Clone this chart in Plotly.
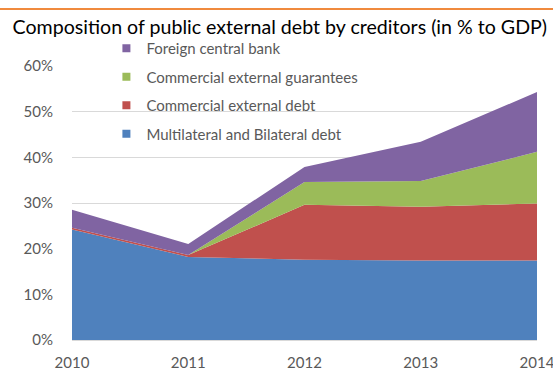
import plotly.graph_objects as go

years = [2010, 2011, 2012, 2013, 2014]

# % to GDP (stacked bottom -> top)
multilateral = [24.2, 18.2, 17.6, 17.4, 17.4]
commercial_debt = [0.4, 0.4, 12.0, 11.8, 12.5]
commercial_guarantees = [0.0, 0.0, 5.0, 5.6, 11.3]
foreign_cb = [3.9, 2.4, 3.3, 8.6, 13.1]

y_ticks = [0, 10, 20, 30, 40, 50, 60]

series = [
    ("Multilateral and Bilateral debt", multilateral, "#4F81BD"),
    ("Commercial external debt", commercial_debt, "#C0504D"),
    ("Commercial external guarantees", commercial_guarantees, "#9BBB59"),
    ("Foreign central bank", foreign_cb, "#8064A2"),
]

FONT = "Lato"
GREY = "#595959"

fig = go.Figure()

for name, vals, color in series:
    fig.add_trace(go.Scatter(
        x=years, y=vals, name=name, mode="lines",
        stackgroup="one", line=dict(width=0, color=color),
        fillcolor=color, showlegend=False, hoverinfo="x+y+name",
    ))

# square legend entries, top of the stack first
for i, (name, vals, color) in enumerate(reversed(series)):
    fig.add_trace(go.Scatter(
        x=[None], y=[None], name=name, mode="markers",
        marker=dict(symbol="square", size=8, color=color),
        legendgroup=f"g{i}", showlegend=True,
    ))

fig.update_layout(
    width=553, height=372,
    margin=dict(l=72, r=16, t=66, b=32, autoexpand=False),
    paper_bgcolor="white", plot_bgcolor="white",
    font=dict(family=FONT, size=15, color=GREY),
    title=dict(
        text="Composition of public external debt by creditors (in % to GDP)",
        font=dict(family=FONT, size=19.6, color="#000000"),
        x=0.506, xref="container", xanchor="center",
        y=0.927, yref="container", yanchor="middle",
    ),
    legend=dict(
        x=0.074, y=1.124, xanchor="left", yanchor="top",
        bgcolor="rgba(0,0,0,0)", traceorder="grouped",
        tracegroupgap=6, itemwidth=30,
        font=dict(family=FONT, size=15, color=GREY),
    ),
    xaxis=dict(
        range=[2010, 2014], tickvals=years, ticktext=[str(y) for y in years],
        showgrid=False, zeroline=False, showline=False, ticks="",
        ticklabelstandoff=12, ticklabeloverflow="allow",
        tickfont=dict(family=FONT, size=15, color=GREY),
    ),
    yaxis=dict(
        range=[0, 60], tickvals=y_ticks, ticktext=[f"{v}%" for v in y_ticks],
        showgrid=True, gridcolor="#D9D9D9", gridwidth=1,
        zeroline=True, zerolinecolor="#D9D9D9", zerolinewidth=1,
        showline=False, ticks="", ticklabelstandoff=18,
        tickfont=dict(family=FONT, size=15, color=GREY),
    ),
    showlegend=True,
)

# orange rule across the top of the page
fig.add_shape(
    type="line", xref="paper", yref="paper",
    x0=-0.16, x1=1.04, y0=1.208, y1=1.208,
    line=dict(color="#F08A3E", width=2),
)

fig.write_html(
    "out.html",
    config={"displayModeBar": False},
    post_script="document.body.style.margin='0';",
)
